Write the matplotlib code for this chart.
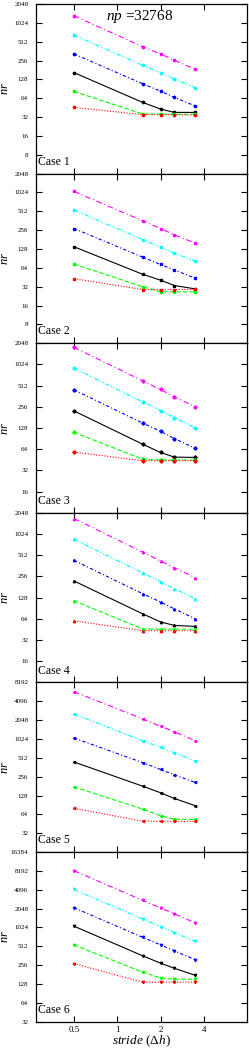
#!/usr/bin/env python3
"""
plot.py -- nr vs stride for the six test cases, np = 32768.

six stacked log2/log2 panels sharing the stride axis, one curve per series.

    python plot.py
"""
import matplotlib
matplotlib.use("Agg")
import matplotlib.pyplot as plt
from matplotlib.ticker import FixedLocator, FixedFormatter, NullLocator

STRIDE = [0.5, 1.5, 2.0, 2.5, 3.5]

# per case, series top -> bottom: magenta, cyan, blue, black, green, red
CASE1 = [
    [1330, 427, 326, 258, 185],
    [652, 215, 164, 130, 94],
    [326, 109, 83, 66, 48],
    [164, 55, 43, 38, 38],
    [82, 36, 35.6, 35.6, 35.6],
    [45.6, 35, 35, 35, 34.5],
]
CASE2 = [
    [1061, 362, 272, 215, 159],
    [540, 181, 137, 110, 82],
    [272, 95, 72.5, 59, 43.7],
    [139, 50.6, 40.7, 33.4, 29.5],
    [73.5, 32, 26.5, 26.5, 26.5],
    [43, 28.8, 28.6, 28.8, 29],
]
CASE3 = [
    [1795, 600, 452, 355, 256],
    [903, 302, 227, 180, 128],
    [446, 151, 115, 90.5, 66],
    [224, 75.6, 57.6, 49.5, 49],
    [111, 46.3, 45, 45, 45],
    [58.4, 44, 44, 44, 44],
]
CASE4 = [
    [1700, 568, 424, 340, 245],
    [862, 288, 217, 172, 123],
    [433, 146, 111, 88.6, 64],
    [221, 75.6, 58, 51.6, 50],
    [116, 46, 45.7, 45.7, 45.7],
    [60, 43.5, 43.5, 43.5, 43.5],
]
CASE5 = [
    [5830, 2150, 1640, 1330, 961],
    [2580, 961, 755, 620, 456],
    [1060, 431, 334, 274, 207],
    [440, 181, 142, 115, 88],
    [176, 78, 61, 53.4, 53.4],
    [80, 50, 49.6, 49.6, 49.6],
]
CASE6 = [
    [8270, 2780, 2100, 1690, 1210],
    [4150, 1400, 1060, 850, 612],
    [2120, 714, 541, 433, 313],
    [1075, 362, 276, 228, 176],
    [541, 198, 160, 153, 153],
    [272, 137, 137, 137, 137],
]
CASES = [CASE1, CASE2, CASE3, CASE4, CASE5, CASE6]
CASE_LABELS = ["Case 1", "Case 2", "Case 3", "Case 4", "Case 5", "Case 6"]

# y range and labelled ticks for each panel
YLIMS = [(4, 2048), (4, 2048), (8, 2048), (8, 2048), (16, 8192), (32, 16384)]
YTICKS = [
    [8, 16, 32, 64, 128, 256, 512, 1024, 2048],
    [8, 16, 32, 64, 128, 256, 512, 1024, 2048],
    [16, 32, 64, 128, 256, 512, 1024, 2048],
    [16, 32, 64, 128, 256, 512, 1024, 2048],
    [32, 64, 128, 256, 512, 1024, 2048, 4096, 8192],
    [32, 64, 128, 256, 512, 1024, 2048, 4096, 8192, 16384],
]
XTICKS = [0.5, 1, 2, 4]
XTICK_LABELS = ["0.5", "1", "2", "4"]

COLORS = ["#ff00ff", "#00ffff", "#0000ff", "#000000", "#00ff00", "#ff0000"]
STYLES = [(0, (5, 2.5, 1, 2.5)), (0, (4, 1.5, 1, 1.5, 1, 1.5)), (0, (3, 2, 1, 2)),
          "-", (0, (4, 2)), (0, (1, 1.5))]
MARKERS = ["o", "s", "D", "^", "<", "v"]

plt.rcParams["font.family"] = ["Liberation Serif", "DejaVu Serif"]
plt.rcParams["mathtext.fontset"] = "custom"
plt.rcParams["mathtext.rm"] = "Liberation Serif"
plt.rcParams["mathtext.it"] = "Liberation Serif:italic"


def main() -> None:
    fig, axes = plt.subplots(6, 1, figsize=(2.49, 10.49), dpi=100, sharex=True)
    fig.subplots_adjust(left=0.1446, right=0.992, top=0.9962, bottom=0.026,
                        hspace=0)

    for i, ax in enumerate(axes):
        for series, c, ls in zip(CASES[i], COLORS, STYLES):
            ax.plot(STRIDE, series, color=c, ls=ls, lw=0.8,
                    marker=MARKERS[i], ms=1.7, mec=c, mfc=c)
        ax.set_xscale("log", base=2)
        ax.set_yscale("log", base=2)
        ax.set_xlim(0.272, 8.0)
        ax.set_ylim(*YLIMS[i])
        ax.yaxis.set_major_locator(FixedLocator(YTICKS[i]))
        ax.yaxis.set_major_formatter(FixedFormatter([str(t) for t in YTICKS[i]]))
        ax.yaxis.set_minor_locator(NullLocator())
        ax.xaxis.set_major_locator(FixedLocator(XTICKS))
        ax.xaxis.set_minor_locator(NullLocator())
        ax.tick_params(direction="in", top=True, right=True, length=4,
                       width=0.8, labelsize=5, pad=5.5)
        ax.tick_params(axis="x", labelsize=6.5, pad=3)
        ax.set_ylabel("$nr$", fontsize=9)
        ax.yaxis.set_label_coords(-0.118, 0.5)
        ax.text(0.008, 0.035, CASE_LABELS[i], transform=ax.transAxes,
                fontsize=8.5, ha="left", va="bottom")
        for sp in ax.spines.values():
            sp.set_linewidth(0.9)

    axes[-1].xaxis.set_major_formatter(FixedFormatter(XTICK_LABELS))
    axes[-1].set_xlabel("$stride$ ($\\Delta h$)", fontsize=9.5, labelpad=-0.5)
    axes[0].text(0.493, 0.925, "$np$ =32768", transform=axes[0].transAxes,
                 fontsize=11, ha="center", va="center")

    fig.savefig("out.png", dpi=100)
    plt.close(fig)


if __name__ == "__main__":
    main()
